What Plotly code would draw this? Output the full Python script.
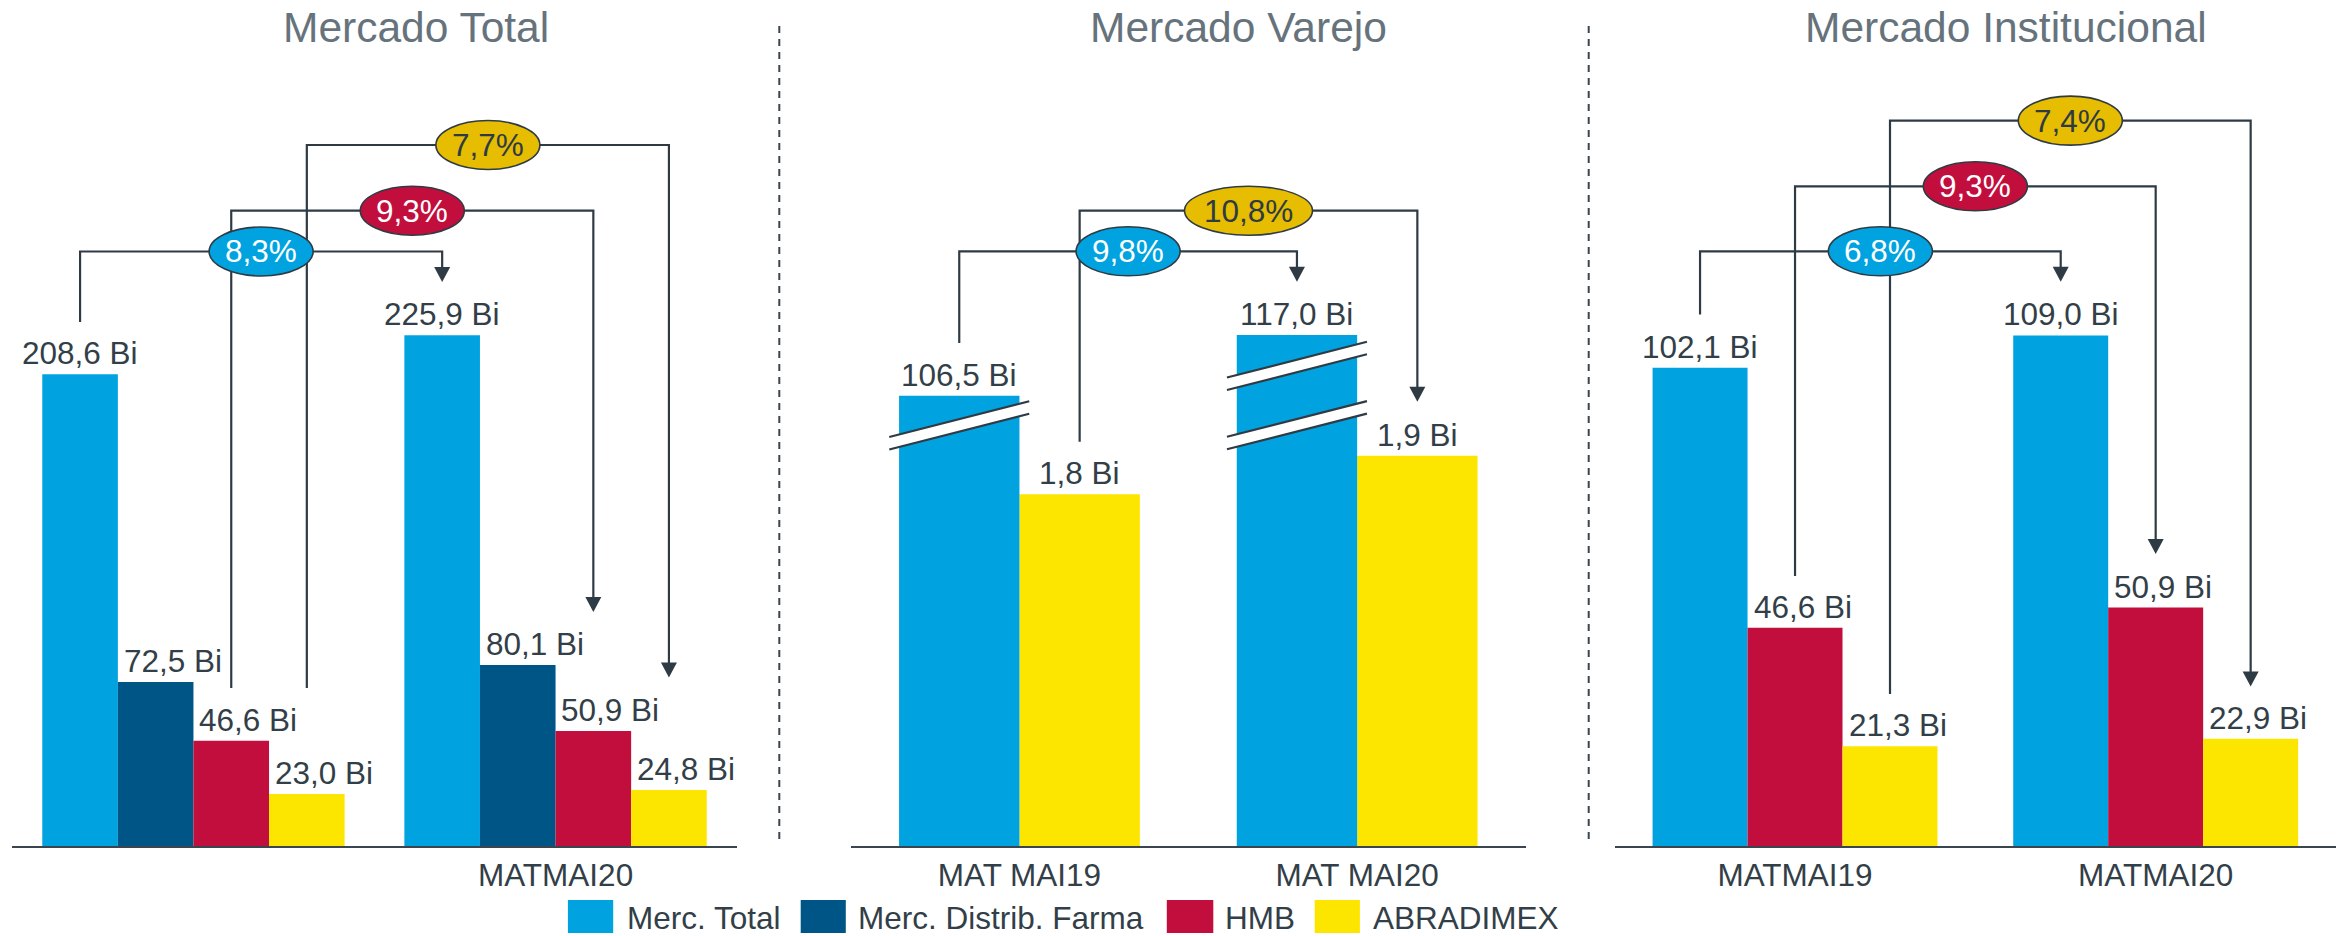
import plotly.graph_objects as go

W, H = 2336, 936

# ---------------- data ----------------
SERIES = ["Merc. Total", "Merc. Distrib. Farma", "HMB", "ABRADIMEX"]

TICKS_TOTAL = ["", "MATMAI20"]
TICKS_VAREJO = ["MAT MAI19", "MAT MAI20"]
TICKS_INST = ["MATMAI19", "MATMAI20"]

TOTAL_MERC = [208.6, 225.9]
TOTAL_DISTRIB = [72.5, 80.1]
TOTAL_HMB = [46.6, 50.9]
TOTAL_ABRAD = [23.0, 24.8]

VAREJO_MERC = [106.5, 117.0]
VAREJO_ABRAD = [1.8, 1.9]

INST_MERC = [102.1, 109.0]
INST_HMB = [46.6, 50.9]
INST_ABRAD = [21.3, 22.9]

TOTAL_GROWTH = ["8,3%", "9,3%", "7,7%"]      # Merc. Total, HMB, ABRADIMEX
VAREJO_GROWTH = ["9,8%", "10,8%"]            # Merc. Total, ABRADIMEX
INST_GROWTH = ["6,8%", "9,3%", "7,4%"]       # Merc. Total, HMB, ABRADIMEX

TITLES = ["Mercado Total", "Mercado Varejo", "Mercado Institucional"]

# ---------------- style ----------------
FONT = "Arial, Liberation Sans, sans-serif"
TXT = "#333f48"
LINE = "#2f3b44"
TITLE_C = "#66737c"
COLORS = {"Merc. Total": "#00a3e0", "Merc. Distrib. Farma": "#005587",
          "HMB": "#c20e3d", "ABRADIMEX": "#fce600"}
PILL = {"Merc. Total": ("#00a3e0", "white"), "HMB": ("#c20e3d", "white"),
        "ABRADIMEX": ("#e6bd00", LINE)}


def px_x(p):
    return p / W


def px_y(p):
    return 1 - p / H


YDOM = [px_y(846), px_y(60)]

panels = [
    dict(xa="x", dom=[12.4, 736.6], gw=0.835, dx=17, ticks=TICKS_TOTAL,
         series=[("Merc. Total", TOTAL_MERC, "y"), ("Merc. Distrib. Farma", TOTAL_DISTRIB, "y"),
                 ("HMB", TOTAL_HMB, "y"), ("ABRADIMEX", TOTAL_ABRAD, "y")],
         brackets=[("Merc. Total", TOTAL_GROWTH[0], 251.5, 322, 282, 104),
                   ("HMB", TOTAL_GROWTH[1], 210.7, 688, 612, 104),
                   ("ABRADIMEX", TOTAL_GROWTH[2], 145, 688, 677.6, 104)],
         title_x=415.5),
    dict(xa="x2", dom=[850.6, 1526], gw=0.713, dx=0, ticks=TICKS_VAREJO,
         series=[("Merc. Total", VAREJO_MERC, "y3"), ("ABRADIMEX", VAREJO_ABRAD, "y2")],
         brackets=[("Merc. Total", VAREJO_GROWTH[0], 251.3, 343, 281.8, 104),
                   ("ABRADIMEX", VAREJO_GROWTH[1], 210.7, 441.8, 401.8, 128)],
         title_x=1238),
    dict(xa="x3", dom=[1614.7, 2336], gw=0.790, dx=7.5, ticks=TICKS_INST,
         series=[("Merc. Total", INST_MERC, "y4"), ("HMB", INST_HMB, "y4"),
                 ("ABRADIMEX", INST_ABRAD, "y4")],
         brackets=[("Merc. Total", INST_GROWTH[0], 251.3, 314.6, 281.8, 104),
                   ("HMB", INST_GROWTH[1], 186.3, 576, 554, 104),
                   ("ABRADIMEX", INST_GROWTH[2], 120.6, 694, 686.6, 104)],
         title_x=2005.7),
]

# broken-axis marks on the retail total bars: (category index, y centre px)
BREAKS = [(0, 425.4), (1, 365.9), (1, 425.2)]

fig = go.Figure()
shapes_lines, shapes_top, annotations = [], [], []


def fmt(v):
    return f"{v:.1f}".replace(".", ",") + " Bi"


for p in panels:
    n = len(p["series"])
    w = p["gw"] / n
    centers = {}
    for i, (name, vals, ya) in enumerate(p["series"]):
        off = -p["gw"] / 2 + i * w
        fig.add_trace(go.Bar(
            x=[0, 1], y=vals, width=w, offset=off, name=name,
            marker=dict(color=COLORS[name], line=dict(width=0)),
            xaxis=p["xa"], yaxis=ya, showlegend=False, hoverinfo="skip"))
        cx = [k + off + w / 2 for k in (0, 1)]
        centers[name] = cx
        for k, v in enumerate(vals):
            annotations.append(dict(
                x=cx[k], y=v, xref=p["xa"], yref=ya, text=fmt(v), showarrow=False,
                xanchor="center", yanchor="bottom", yshift=1,
                xshift=0 if name == "Merc. Total" else p["dx"],
                font=dict(size=31.5, color=TXT, family=FONT)))
    p["centers"] = centers

    # growth brackets
    for name, txt, lvl, start, tip, ew in p["brackets"]:
        xa0, xa1 = centers[name]
        path = (f"M {xa0},{px_y(start)} L {xa0},{px_y(lvl)} "
                f"L {xa1},{px_y(lvl)} L {xa1},{px_y(tip - 14)}")
        shapes_lines.append(dict(type="path", path=path, xref=p["xa"], yref="paper",
                                 line=dict(color=LINE, width=2.2),
                                 fillcolor="rgba(0,0,0,0)", layer="above"))
        shapes_lines.append(dict(type="path", path="M -8,15 L 8,15 L 0,0 Z",
                                 xref=p["xa"], yref="paper",
                                 xsizemode="pixel", xanchor=xa1,
                                 ysizemode="pixel", yanchor=px_y(tip),
                                 fillcolor=LINE, line=dict(width=0), layer="above"))
        mid = (xa0 + xa1) / 2
        fill, tc = PILL[name]
        shapes_top.append(dict(type="circle", xref=p["xa"], yref="paper",
                               xsizemode="pixel", xanchor=mid, x0=-ew / 2, x1=ew / 2,
                               ysizemode="pixel", yanchor=px_y(lvl), y0=-24.5, y1=24.5,
                               fillcolor=fill, line=dict(color=LINE, width=1.6),
                               layer="above"))
        annotations.append(dict(x=mid, y=px_y(lvl), xref=p["xa"], yref="paper",
                                text=txt, showarrow=False, xanchor="center",
                                yanchor="middle",
                                font=dict(size=31.5, color=tc, family=FONT)))

# broken axis marks (middle panel, total market bars)
vp = panels[1]
hw, sl, th = 70, 17.85, 6.25
for k, yc in BREAKS:
    xc = vp["centers"]["Merc. Total"][k]
    band = (f"M {-hw},{-sl - th} L {hw},{sl - th} L {hw},{sl + th} L {-hw},{-sl + th} Z")
    shapes_top.append(dict(type="path", path=band, xref="x2", yref="paper",
                           xsizemode="pixel", xanchor=xc, ysizemode="pixel",
                           yanchor=px_y(yc), fillcolor="white", line=dict(width=0),
                           layer="above"))
    for s in (-th, th):
        shapes_top.append(dict(type="path", path=f"M {-hw},{-sl + s} L {hw},{sl + s}",
                               xref="x2", yref="paper", xsizemode="pixel", xanchor=xc,
                               ysizemode="pixel", yanchor=px_y(yc),
                               line=dict(color=LINE, width=2.2), layer="above"))

# dashed separators
for xs in (779.3, 1588.7):
    shapes_lines.append(dict(type="line", xref="paper", yref="paper",
                             x0=px_x(xs), x1=px_x(xs), y0=px_y(26), y1=px_y(840),
                             line=dict(color="#3a4550", width=2, dash="7px,6px")))

# titles
for p, t in zip(panels, TITLES):
    annotations.append(dict(x=px_x(p["title_x"]), y=px_y(27.5), xref="paper", yref="paper",
                            text=t, showarrow=False, xanchor="center", yanchor="middle",
                            font=dict(size=42.5, color=TITLE_C, family=FONT)))

# legend (drawn)
LEG_SQ = [(567.9, 613.2), (800.7, 845.8), (1166.8, 1213.3), (1314.7, 1359.9)]
LEG_TX = [625, 856.4, 1223, 1371]
for name, (a, b), tx in zip(SERIES, LEG_SQ, LEG_TX):
    shapes_top.append(dict(type="rect", xref="paper", yref="paper",
                           x0=px_x(a), x1=px_x(b), y0=px_y(933), y1=px_y(900),
                           fillcolor=COLORS[name], line=dict(width=0)))
    annotations.append(dict(x=px_x(tx), y=px_y(917.5), xref="paper", yref="paper",
                            text=name, showarrow=False, xanchor="left", yanchor="middle",
                            font=dict(size=31.5, color=TXT, family=FONT)))

xcommon = dict(range=[-0.5, 1.5], showgrid=False, zeroline=False, showline=True,
               linecolor="#3a4550", linewidth=2, ticks="", tickvals=[0, 1],
               tickfont=dict(size=31.5, color=TXT, family=FONT),
               fixedrange=True)
ycommon = dict(showgrid=False, zeroline=False, showline=False, showticklabels=False,
               ticks="", fixedrange=True)

fig.update_layout(
    width=W, height=H, margin=dict(l=0, r=0, t=0, b=0),
    paper_bgcolor="white", plot_bgcolor="white", barmode="overlay", showlegend=False,
    font=dict(family=FONT, size=31.5, color=TXT),
    xaxis=dict(domain=[px_x(panels[0]["dom"][0]), px_x(panels[0]["dom"][1])], anchor="y",
               ticktext=TICKS_TOTAL, **xcommon),
    xaxis2=dict(domain=[px_x(panels[1]["dom"][0]), px_x(panels[1]["dom"][1])], anchor="y2",
                ticktext=TICKS_VAREJO, **xcommon),
    xaxis3=dict(domain=[px_x(panels[2]["dom"][0]), 1.0], anchor="y4",
                ticktext=TICKS_INST, **xcommon),
    yaxis=dict(domain=YDOM, range=[0, 347.6], anchor="x", **ycommon),
    yaxis2=dict(domain=YDOM, range=[0.889, 2.925], anchor="x2", **ycommon),
    yaxis3=dict(domain=YDOM, range=[28.6, 164.6], anchor="x2", overlaying="y2", **ycommon),
    yaxis4=dict(domain=YDOM, range=[0, 167.8], anchor="x3", **ycommon),
    shapes=shapes_lines + shapes_top,
    annotations=annotations,
)

fig.write_html("out.html", config={"displayModeBar": False},
               post_script="document.body.style.margin='0px';"
                           "document.body.style.overflow='hidden';")
